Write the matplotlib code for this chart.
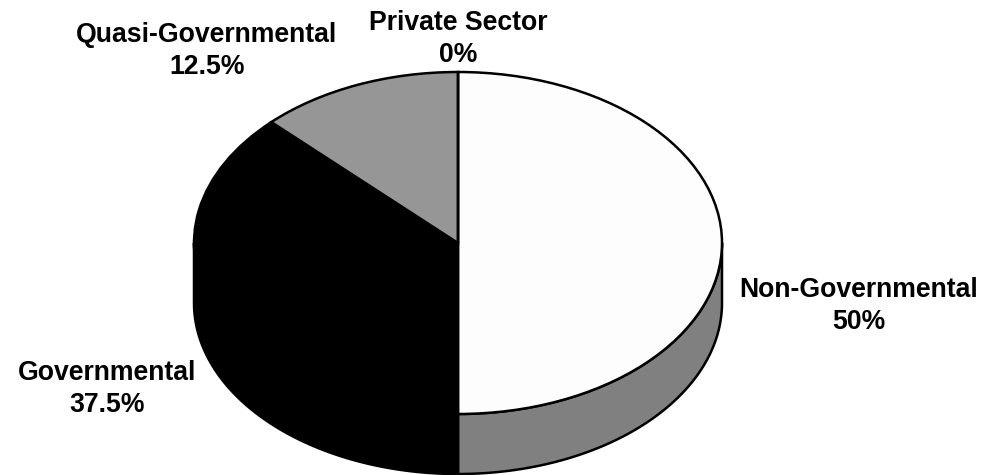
import matplotlib
matplotlib.use("Agg")
import matplotlib.pyplot as plt
import numpy as np

labels = ["Non-Governmental", "Private Sector", "Quasi-Governmental", "Governmental"]
shares = [50, 0, 12.5, 37.5]

# clockwise from 12 o'clock: non-gov, governmental, quasi, private
pie_order = [0, 3, 2, 1]
top_colors = {0: "#fdfdfd", 1: "#ffffff", 2: "#969696", 3: "#000000"}
side_colors = {0: "#808080", 1: "#808080", 2: "#4b4b4b", 3: "#000000"}

W, H = 987, 475
cx, cy = 458, 243
rx, ry = 264, 171
depth = 60 / ry

plt.rcParams["font.family"] = ["Liberation Sans", "DejaVu Sans"]

fig = plt.figure(figsize=(W / 100, H / 100), dpi=100)
ax = fig.add_axes([0, 0, 1, 1])

vals = [shares[i] for i in pie_order]
edges = 90 - np.cumsum([0] + vals) * 3.6

# side wall first, only the part in the lower half shows
for n, i in enumerate(pie_order):
    a0, a1 = edges[n], edges[n + 1]
    lo = max(a1, -180)
    hi = min(a0, 0)
    if hi <= lo:
        continue
    t = np.radians(np.linspace(hi, lo, 80))
    xs = np.concatenate([np.cos(t), np.cos(t[::-1])])
    ys = np.concatenate([np.sin(t), np.sin(t[::-1]) - depth])
    ax.fill(xs, ys, facecolor=side_colors[i], edgecolor="black", linewidth=1.8, joinstyle="round")

wedges, _ = ax.pie(
    vals,
    startangle=90,
    counterclock=False,
    colors=[top_colors[i] for i in pie_order],
    wedgeprops={"edgecolor": "black", "linewidth": 1.8},
    radius=1,
)

ax.set_aspect("auto")
ax.set_xlim((0 - cx) / rx, (W - cx) / rx)
ax.set_ylim((cy - H) / ry, cy / ry)
ax.axis("off")

# label centres in pixels
label_pos = {0: (859, 306), 1: (458, 39), 2: (207, 51), 3: (107, 389)}
for i, name in enumerate(labels):
    x, y = label_pos[i]
    fig.text(
        x / W, 1 - y / H, f"{name}\n{shares[i]:g}%",
        ha="center", va="center", ma="center",
        fontsize=19.2, fontweight="bold", linespacing=1.3, color="black",
    )

fig.savefig("out.png", dpi=100, facecolor="white")
